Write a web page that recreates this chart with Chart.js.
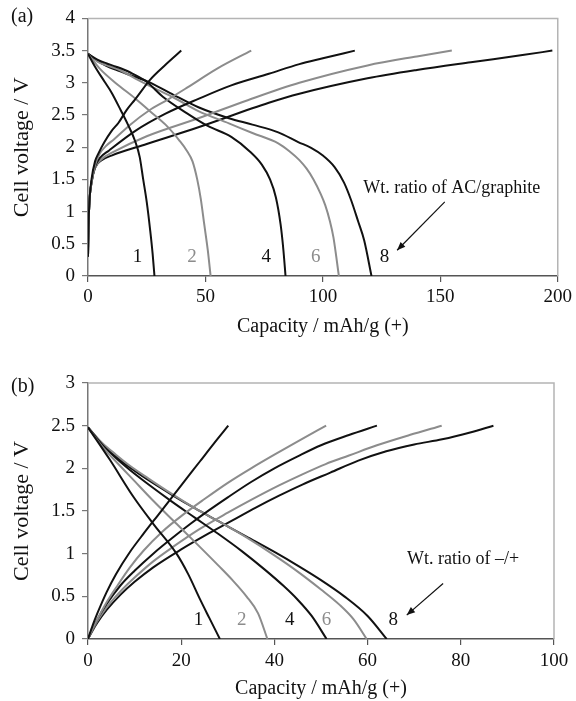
<!DOCTYPE html>
<html><head><meta charset="utf-8">
<script src="https://cdn.jsdelivr.net/npm/chart.js@4.4.0/dist/chart.umd.min.js"></script>
<style>
html,body{margin:0;padding:0;background:#fff;}
#wrap{position:relative;width:576px;height:701px;overflow:hidden;}
.box{position:absolute;left:0;}
</style></head><body>
<div id="wrap">
<div class="box" style="top:0px"><canvas id="ca" width="576" height="340"></canvas></div>
<div class="box" style="top:345px"><canvas id="cb" width="576" height="356"></canvas></div>
</div>
<script>
// ---------- data ----------
const ratios = ['1','2','4','6','8'];

// tick labels
const capTicksA = [0, 50, 100, 150, 200];
const voltTicksA = [0, 0.5, 1, 1.5, 2, 2.5, 3, 3.5, 4];
const capTicksB = [0, 20, 40, 60, 80, 100];
const voltTicksB = [0, 0.5, 1, 1.5, 2, 2.5, 3];

// (a) charge curves [capacity, voltage]
const chargeA1 = [[0,0.3],[0.2,0.75],[0.6,1.15],[1.5,1.5],[3,1.78],[4.4,1.9],[7,2.08],[10,2.25],[13,2.38],[16.5,2.58],[20,2.74],[26.5,3.05],[33,3.28],[39.7,3.5]];
const chargeA2 = [[0,0.3],[0.2,0.75],[0.6,1.15],[1.5,1.45],[3,1.72],[5,1.9],[8,2.03],[11,2.12],[18,2.35],[26,2.57],[34,2.74],[42,2.92],[55,3.22],[69.5,3.5]];
const chargeA4 = [[0,0.3],[0.2,0.75],[0.6,1.15],[1.5,1.45],[3,1.7],[5,1.83],[9,1.95],[20,2.25],[33,2.52],[47,2.75],[61,2.96],[77,3.14],[90,3.29],[100,3.38],[113.6,3.5]];
const chargeA6 = [[0,0.3],[0.2,0.75],[0.6,1.15],[1.5,1.45],[3,1.68],[6,1.82],[10,1.91],[25,2.17],[47,2.45],[68,2.73],[90,3.0],[119,3.27],[140,3.41],[154.9,3.5]];
const chargeA8 = [[0,0.3],[0.2,0.75],[0.6,1.15],[1.5,1.45],[3,1.68],[6,1.8],[10,1.87],[25,2.05],[47,2.31],[77,2.69],[90,2.83],[119,3.07],[140,3.2],[163,3.32],[185,3.43],[197.7,3.5]];
// (a) discharge curves
const dischargeA1 = [[0,3.45],[3,3.25],[7,3.02],[10,2.85],[14,2.57],[17,2.35],[20,2.1],[22,1.85],[23.5,1.5],[25,1.15],[26.5,0.7],[27.5,0.35],[28.3,0]];
const dischargeA2 = [[0,3.45],[5,3.22],[12,2.99],[20,2.76],[26,2.57],[33,2.35],[39,2.1],[42,1.95],[44.5,1.78],[46.5,1.5],[48,1.2],[49.5,0.8],[51,0.4],[52.2,0]];
const dischargeA4 = [[0,3.45],[4,3.36],[8,3.3],[12,3.25],[18,3.16],[24.8,3.02],[32,2.78],[42,2.53],[51,2.33],[61,2.16],[69,1.93],[74,1.73],[77.5,1.5],[80,1.22],[82,0.8],[83.2,0.4],[84.1,0]];
const dischargeA6 = [[0,3.45],[4,3.33],[8,3.27],[12.8,3.21],[20,3.07],[28,2.92],[37,2.76],[47,2.56],[60,2.37],[70,2.22],[81,2.06],[86,1.93],[90,1.8],[93,1.67],[96,1.5],[99,1.28],[101,1.1],[103,0.85],[104.5,0.6],[105.7,0.3],[106.8,0]];
const dischargeA8 = [[0,3.45],[4,3.34],[8,3.26],[12,3.2],[18,3.12],[24.8,3.03],[35,2.84],[47,2.62],[60,2.45],[70,2.35],[81,2.23],[89.5,2.08],[95,1.99],[100,1.87],[105,1.69],[109,1.45],[112,1.18],[115,0.85],[117.6,0.55],[120.7,0]];

// (b) charge curves
const chargeB1 = [[0,0],[1,0.16],[2,0.3],[4,0.55],[6,0.76],[9,1.02],[12,1.24],[15,1.45],[18,1.66],[21,1.87],[24,2.08],[27,2.29],[30.1,2.5]];
const chargeB2 = [[0,0],[1,0.12],[2,0.23],[4,0.43],[6,0.6],[9,0.84],[12,1.04],[16,1.26],[20,1.44],[25,1.64],[30,1.83],[35,2.0],[40,2.16],[45.5,2.33],[51.1,2.5]];
const chargeB4 = [[0,0],[1,0.12],[2,0.23],[4,0.41],[7,0.63],[10,0.8],[14,1.0],[18,1.18],[22,1.35],[26,1.51],[30,1.66],[35,1.84],[40,2.0],[45,2.14],[50,2.27],[56,2.39],[62,2.5]];
const chargeB6 = [[0,0],[1,0.11],[2,0.21],[4,0.37],[7,0.56],[10,0.72],[14,0.91],[18,1.07],[24,1.29],[30,1.48],[35,1.63],[41,1.8],[46,1.93],[51,2.05],[56,2.15],[62,2.27],[69,2.39],[75.9,2.5]];
const chargeB8 = [[0,0],[1,0.1],[2,0.19],[4,0.34],[7,0.52],[10,0.67],[14,0.84],[20,1.05],[26,1.24],[31,1.39],[36,1.54],[41,1.68],[46,1.81],[52,1.95],[58,2.09],[64,2.2],[70,2.28],[76,2.34],[82,2.42],[87,2.5]];
// (b) discharge curves
const dischargeB1 = [[0,2.48],[4.7,2.1],[9.7,1.67],[14,1.35],[19,1.0],[21.5,0.76],[24,0.47],[26,0.25],[28.3,0]];
const dischargeB2 = [[0,2.48],[3,2.26],[6,2.08],[10,1.85],[14,1.62],[19,1.35],[24,1.08],[28,0.86],[31,0.69],[34,0.5],[36.5,0.3],[38.5,0]];
const dischargeB4 = [[0,2.48],[3,2.28],[6,2.12],[9,1.98],[13,1.81],[18,1.61],[23,1.42],[28,1.23],[33,1.03],[38,0.81],[42,0.62],[45,0.46],[48,0.27],[51.2,0]];
const dischargeB6 = [[0,2.48],[3,2.3],[6,2.16],[9,2.03],[13,1.88],[18,1.7],[23,1.53],[28,1.38],[34,1.19],[40,0.98],[45,0.79],[50,0.58],[54,0.4],[57,0.23],[59.8,0]];
const dischargeB8 = [[0,2.48],[3,2.29],[6,2.14],[9,2.01],[13,1.86],[18,1.69],[23,1.53],[28,1.38],[34,1.2],[40,1.02],[45,0.86],[50,0.69],[55,0.5],[60,0.27],[64.1,0]];

// ---------- styling ----------
const BLACK = '#111111';
const GRAY = '#8c8c8c';
const ratioColors = [BLACK, GRAY, BLACK, GRAY, BLACK];
const SERIF = '"Liberation Serif", "DejaVu Serif", serif';

function makeDatasets(charges, discharges) {
  const ds = [];
  charges.forEach((c, i) => {
    ds.push({label: 'charge ' + ratios[i], data: c, borderColor: ratioColors[i]});
    ds.push({label: 'discharge ' + ratios[i], data: discharges[i], borderColor: ratioColors[i]});
  });
  return ds.map(d => Object.assign(d, {
    borderWidth: 2, pointRadius: 0, fill: false, showLine: true,
    cubicInterpolationMode: 'monotone'
  }));
}

const notesPlugin = {
  id: 'notes',
  beforeDatasetsDraw(chart) {
    const {ctx, chartArea: a} = chart;
    ctx.save();
    ctx.strokeStyle = '#b4b4b4';
    ctx.lineWidth = 1.5;
    ctx.beginPath();
    ctx.moveTo(a.left, a.top); ctx.lineTo(a.right, a.top); ctx.lineTo(a.right, a.bottom);
    ctx.stroke();
    ctx.restore();
  },
  afterDatasetsDraw(chart, args, o) {
    const {ctx, scales: {x, y}} = chart;
    ctx.save();
    ctx.textAlign = 'center';
    ctx.textBaseline = 'middle';
    ctx.font = '19px ' + SERIF;
    o.labels.forEach((t, i) => {
      ctx.fillStyle = ratioColors[i];
      ctx.fillText(t, x.getPixelForValue(o.labelX[i]), y.getPixelForValue(o.labelY));
    });
    ctx.fillStyle = '#111';
    ctx.font = '18px ' + SERIF;
    ctx.fillText(o.note, x.getPixelForValue(o.noteX), y.getPixelForValue(o.noteY));
    // arrow
    const x1 = x.getPixelForValue(o.arrow[0]), y1 = y.getPixelForValue(o.arrow[1]);
    const x2 = x.getPixelForValue(o.arrow[2]), y2 = y.getPixelForValue(o.arrow[3]);
    ctx.strokeStyle = '#111';
    ctx.lineWidth = 1.2;
    ctx.beginPath(); ctx.moveTo(x1, y1); ctx.lineTo(x2, y2); ctx.stroke();
    const ang = Math.atan2(y2 - y1, x2 - x1), L = 9, W = 0.38;
    ctx.beginPath();
    ctx.moveTo(x2, y2);
    ctx.lineTo(x2 - L * Math.cos(ang - W), y2 - L * Math.sin(ang - W));
    ctx.lineTo(x2 - L * Math.cos(ang + W), y2 - L * Math.sin(ang + W));
    ctx.closePath(); ctx.fillStyle = '#111'; ctx.fill();
    // panel label
    ctx.textAlign = 'left';
    ctx.font = '20px ' + SERIF;
    ctx.fillText(o.panel, o.panelPos[0], o.panelPos[1]);
    ctx.restore();
  }
};

function makeChart(id, cfg) {
  return new Chart(document.getElementById(id), {
    type: 'scatter',
    data: {datasets: makeDatasets(cfg.charges, cfg.discharges)},
    plugins: [notesPlugin],
    options: {
      responsive: false, animation: false, devicePixelRatio: 1,
      layout: {padding: cfg.padding},
      plugins: {legend: {display: false}, tooltip: {enabled: false}, notes: cfg.notes},
      scales: {
        x: {
          type: 'linear', min: cfg.xTicks[0], max: cfg.xTicks[cfg.xTicks.length - 1],
          afterBuildTicks: s => { s.ticks = cfg.xTicks.map(v => ({value: v})); },
          afterFit: s => { s.height = cfg.xAxisHeight; },
          grid: {display: true, drawOnChartArea: false, drawTicks: true, tickLength: 6, color: '#555', lineWidth: 1.2},
          border: {display: true, color: '#555', width: 1.5},
          ticks: {color: '#111', font: {family: SERIF, size: 19}, padding: cfg.xTickPad, maxRotation: 0, autoSkip: false, callback: v => String(v)},
          title: {display: true, text: 'Capacity / mAh/g (+)', color: '#111', font: {family: SERIF, size: 20}, padding: {top: 0, bottom: cfg.xTitlePad}}
        },
        y: {
          type: 'linear', min: cfg.yTicks[0], max: cfg.yTicks[cfg.yTicks.length - 1],
          afterBuildTicks: s => { s.ticks = cfg.yTicks.map(v => ({value: v})); },
          afterFit: s => { s.width = 88; },
          grid: {display: true, drawOnChartArea: false, drawTicks: true, tickLength: 6, color: '#777', lineWidth: 1.2},
          border: {display: true, color: '#777', width: 1.5},
          ticks: {color: '#111', font: {family: SERIF, size: 19}, padding: 7, autoSkip: false, callback: v => String(v)},
          title: {display: true, text: 'Cell voltage / V', color: '#111', font: {family: SERIF, size: 22}, padding: {top: 9, bottom: 0}}
        }
      }
    }
  });
}

makeChart('ca', {
  charges: [chargeA1, chargeA2, chargeA4, chargeA6, chargeA8],
  discharges: [dischargeA1, dischargeA2, dischargeA4, dischargeA6, dischargeA8],
  xTicks: capTicksA, yTicks: voltTicksA,
  padding: {left: 0, top: 18, right: 14, bottom: 0},
  xAxisHeight: 64, xTickPad: 4, xTitlePad: 1,
  notes: {
    labels: ratios, labelX: [21.1, 44.3, 75.9, 97, 126.2], labelY: 0.29,
    note: 'Wt. ratio of AC/graphite', noteX: 154.9, noteY: 1.36,
    arrow: [151.9, 1.15, 131.6, 0.40],
    panel: '(a)', panelPos: [11, 17]
  }
});

makeChart('cb', {
  charges: [chargeB1, chargeB2, chargeB4, chargeB6, chargeB8],
  discharges: [dischargeB1, dischargeB2, dischargeB4, dischargeB6, dischargeB8],
  xTicks: capTicksB, yTicks: voltTicksB,
  padding: {left: 0, top: 38, right: 22, bottom: 0},
  xAxisHeight: 62, xTickPad: 5, xTitlePad: 0,
  notes: {
    labels: ratios, labelX: [23.7, 33, 43.3, 51.2, 65.5], labelY: 0.22,
    note: 'Wt. ratio of \u2013/+', noteX: 80.5, noteY: 0.93,
    arrow: [76.2, 0.65, 68.4, 0.28],
    panel: '(b)', panelPos: [11, 42]
  }
});
</script>
</body></html>
